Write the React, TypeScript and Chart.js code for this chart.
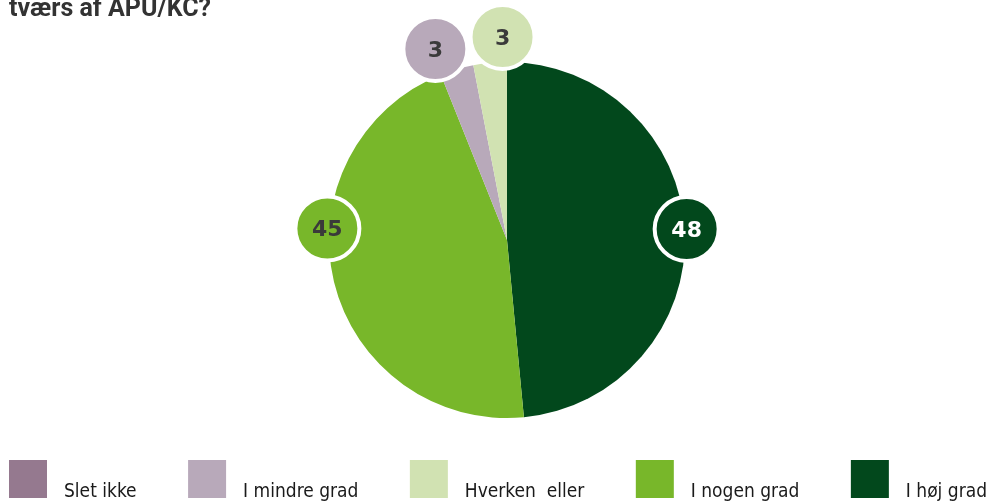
import React, { useEffect, useRef } from "react";
import { Chart, registerables } from "chart.js";

Chart.register(...registerables);

// ---- data ----
const titleText = "tværs af APU/KC?";
// slice order as drawn clockwise from 12 o'clock
const categories = ["I høj grad", "I nogen grad", "I mindre grad", "Hverken  eller", "Slet ikke"];
const values = [48, 45, 3, 3, 0];
// legend order (indices into categories)
const legendOrder = [4, 2, 3, 1, 0];

// ---- styles ----
const colors = ["#02481c", "#78b72a", "#b8a9ba", "#d1e2b2", "#95798f"];
const labelTextColors = ["#ffffff", "#3a3a3a", "#3a3a3a", "#3a3a3a", "#3a3a3a"];
const labelAngleShift = [-0.8, 17.3, -4.2, 4.2, 0];
const labelRadiusShift = [2, 2, 26, 25, 0];
const NARROW = "'Liberation Sans Narrow', 'DejaVu Sans Condensed', 'Liberation Sans', sans-serif";

const titlePlugin = {
  id: "topTitle",
  afterDraw(chart: any) {
    const ctx = chart.ctx;
    ctx.save();
    ctx.font = "bold 25px Roboto, 'Liberation Sans', sans-serif";
    ctx.fillStyle = "#333333";
    ctx.textAlign = "left";
    ctx.textBaseline = "alphabetic";
    ctx.fillText(titleText, 9, 16);
    ctx.restore();
  },
};

const labelPlugin = {
  id: "circleLabels",
  afterDatasetsDraw(chart: any) {
    const ctx = chart.ctx;
    const meta = chart.getDatasetMeta(0);
    ctx.save();
    meta.data.forEach((arc: any, i: number) => {
      if (!values[i]) return;
      const p = arc.getProps(["x", "y", "startAngle", "endAngle", "outerRadius"], true);
      const a = (p.startAngle + p.endAngle) / 2 + (labelAngleShift[i] * Math.PI) / 180;
      const r = p.outerRadius + labelRadiusShift[i];
      const lx = p.x + r * Math.cos(a);
      const ly = p.y + r * Math.sin(a);
      ctx.beginPath();
      ctx.arc(lx, ly, 32, 0, Math.PI * 2);
      ctx.fillStyle = colors[i];
      ctx.fill();
      ctx.lineWidth = 4;
      ctx.strokeStyle = "#ffffff";
      ctx.stroke();
      ctx.font = "bold 22px 'DejaVu Sans', sans-serif";
      ctx.fillStyle = labelTextColors[i];
      ctx.textAlign = "center";
      ctx.textBaseline = "alphabetic";
      ctx.fillText(String(values[i]), lx, ly + 8);
    });
    ctx.restore();
  },
};

const legendPlugin = {
  id: "bottomLegend",
  afterDraw(chart: any) {
    const ctx = chart.ctx;
    ctx.save();
    ctx.font = `19px ${NARROW}`;
    const box = 38;
    const gapText = 17;
    const left = 9;
    const right = 987;
    const widths = legendOrder.map((i) => box + gapText + ctx.measureText(categories[i]).width);
    const total = widths.reduce((s, w) => s + w, 0);
    const gap = (right - left - total) / (legendOrder.length - 1);
    let x = left;
    legendOrder.forEach((i, k) => {
      ctx.fillStyle = colors[i];
      ctx.fillRect(x, 460, box, box);
      ctx.fillStyle = "#1a1a1a";
      ctx.textAlign = "left";
      ctx.textBaseline = "alphabetic";
      ctx.fillText(categories[i], x + box + gapText, 497);
      x += widths[k] + gap;
    });
    ctx.restore();
  },
};

export default function App() {
  const ref = useRef<HTMLCanvasElement | null>(null);
  useEffect(() => {
    if (!ref.current) return;
    const chart = new Chart(ref.current, {
      type: "pie",
      data: {
        labels: categories,
        datasets: [
          {
            data: values,
            backgroundColor: colors,
            borderWidth: 0,
            hoverOffset: 0,
          },
        ],
      },
      options: {
        responsive: false,
        animation: false,
        devicePixelRatio: 1,
        layout: { padding: { left: 329, right: 307, top: 62, bottom: 83 } },
        plugins: {
          legend: { display: false },
          tooltip: { enabled: false },
          title: { display: false },
        },
      },
      plugins: [labelPlugin, legendPlugin, titlePlugin],
    });
    return () => chart.destroy();
  }, []);
  return (
    <div style={{ position: "absolute", left: 0, top: 0, width: 992, height: 501, overflow: "hidden", background: "#ffffff" }}>
      <canvas ref={ref} width={992} height={501} style={{ display: "block" }} />
    </div>
  );
}
